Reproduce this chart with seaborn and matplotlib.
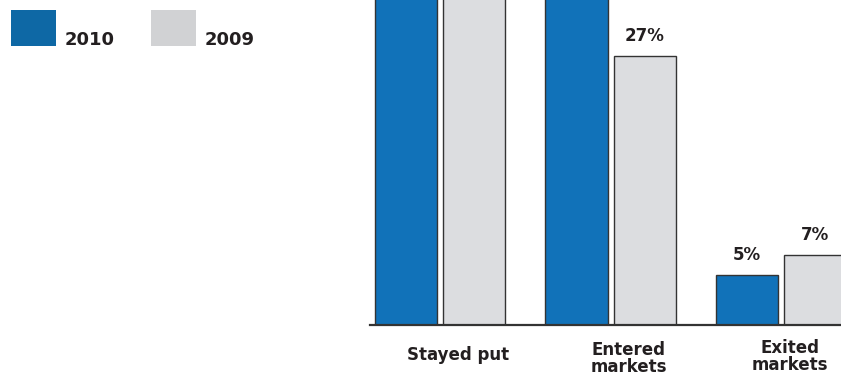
import matplotlib
matplotlib.use("Agg")
import matplotlib.pyplot as plt
import matplotlib.transforms as mtransforms
from matplotlib.patches import Rectangle
import seaborn as sns
import pandas as pd

categories = ["Stayed put", "Entered\nmarkets", "Exited\nmarkets"]
years = ["2010", "2009"]
values_2010 = [62, 33, 5]
values_2009 = [66, 27, 7]
shown_2010 = ["", "", "5%"]
shown_2009 = ["", "27%", "7%"]

colors = {"2010": "#1172b9", "2009": "#dcdde0"}
legend_colors = {"2010": "#0e68a5", "2009": "#d1d2d4"}
text_color = "#231f20"

df = pd.DataFrame({
    "category": categories * 2,
    "year": ["2010"] * 3 + ["2009"] * 3,
    "value": values_2010 + values_2009,
})

sns.set_theme(style="white")
plt.rcParams["font.family"] = ["DejaVu Sans"]

W, H = 841, 379
fig = plt.figure(figsize=(W / 100, H / 100), dpi=100)
ax = fig.add_axes([370 / W, 54 / H, 471 / W, 325 / H])

sns.barplot(data=df, x="category", y="value", hue="year", hue_order=years,
            order=categories, palette=colors, saturation=1, width=0.8, gap=0.09,
            edgecolor="#333333", linewidth=1.0, legend=False, ax=ax)

ax.set_ylim(0, 32.6)
ax.set_xlim(-0.41, 2.35)
for s in ["top", "right", "left"]:
    ax.spines[s].set_visible(False)
ax.spines["bottom"].set_color("#333333")
ax.spines["bottom"].set_linewidth(1.6)
ax.set_yticks([])
ax.set_xlabel("")
ax.set_ylabel("")

ax.set_xticks(range(len(categories)))
ax.set_xticklabels(categories, fontsize=12, fontweight="bold", color=text_color,
                   linespacing=0.92, va="top")
ax.tick_params(axis="x", length=0, pad=15)
offsets = [(18, 0), (18, 5), (9, 7)]
for lab, (dx, dy) in zip(ax.get_xticklabels(), offsets):
    lab.set_transform(lab.get_transform() +
                      mtransforms.ScaledTranslation(dx / 100, dy / 100, fig.dpi_scale_trans))

for cont, labs in zip(ax.containers, [shown_2010, shown_2009]):
    ax.bar_label(cont, labels=labs, padding=8, fontsize=12, fontweight="bold",
                 color=text_color)

# legend
for (x0, yr) in [(11, "2010"), (151, "2009")]:
    fig.patches.append(Rectangle((x0 / W, 1 - 46 / H), 45 / W, 36 / H,
                                 transform=fig.transFigure, facecolor=legend_colors[yr],
                                 edgecolor="none"))
    fig.text((x0 + 54) / W, 1 - 45 / H, yr, fontsize=13, fontweight="bold",
             color=text_color, ha="left", va="baseline")

fig.savefig("out.png", dpi=100)
